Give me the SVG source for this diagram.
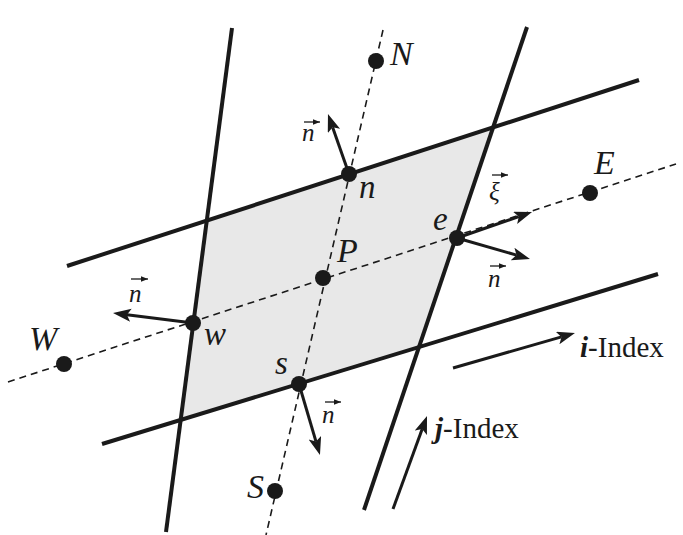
<svg xmlns="http://www.w3.org/2000/svg" width="683" height="535" viewBox="0 0 683 535">
<style>
.thick{stroke:#1a1a1a;stroke-width:4;fill:none}
.dash{stroke:#1a1a1a;stroke-width:1.6;fill:none;stroke-dasharray:7,5}
.arr{stroke:#1a1a1a;stroke-width:3;fill:none;marker-end:url(#ah)}
.vec{stroke:#1a1a1a;stroke-width:1.3;fill:none;marker-end:url(#sh)}
.dot{fill:#1a1a1a}
</style>
<defs>
<marker id="ah" markerUnits="userSpaceOnUse" markerWidth="20" markerHeight="14" refX="4" refY="6.5" orient="auto">
<path d="M0,0 L18,6.5 L0,13 L4,6.5 z" fill="#1a1a1a"/>
</marker>
<marker id="sh" markerUnits="userSpaceOnUse" markerWidth="8" markerHeight="6" refX="7" refY="2.75" orient="auto">
<path d="M0,0 L7,2.75 L0,5.5 z" fill="#1a1a1a"/>
</marker>
</defs>
<g id="cell">
<polygon points="206.5,221 493,127.5 419,347 180.5,420.5" fill="#e8e8e8"/>
</g>
<g id="connectors">
<line class="dash" x1="8" y1="382" x2="676" y2="164"/>
<line class="dash" x1="383" y1="30" x2="266" y2="535"/>
<line class="thick" x1="67" y1="266" x2="639" y2="80"/>
<line class="thick" x1="102" y1="444" x2="658" y2="274"/>
<line class="thick" x1="232" y1="28" x2="166" y2="532"/>
<line class="thick" x1="527" y1="27" x2="364" y2="510"/>
<line class="arr" x1="349" y1="174" x2="332.6" y2="127.2"/>
<line class="arr" x1="457" y1="238" x2="518.8" y2="216.6"/>
<line class="arr" x1="457" y1="238" x2="516.5" y2="255.1"/>
<line class="arr" x1="193" y1="323" x2="126.9" y2="314.7"/>
<line class="arr" x1="299" y1="384" x2="316" y2="441.6"/>
<line class="arr" x1="453" y1="368" x2="561.5" y2="336.9"/>
<line class="arr" x1="393" y1="509" x2="422.2" y2="429.1"/>
</g>
<g font-family="'Liberation Serif', serif" fill="#1a1a1a">
<g id="node-N"><circle class="dot" cx="376" cy="61" r="8"/><text font-style="italic" font-size="34" x="390" y="65">N</text></g>
<g id="node-S"><circle class="dot" cx="275" cy="491" r="8"/><text font-style="italic" font-size="34" x="247" y="498">S</text></g>
<g id="node-W"><circle class="dot" cx="64" cy="364" r="8"/><text font-style="italic" font-size="34" x="29" y="350">W</text></g>
<g id="node-E"><circle class="dot" cx="590" cy="193" r="8"/><text font-style="italic" font-size="34" x="594" y="174">E</text></g>
<g id="node-P"><circle class="dot" cx="323" cy="278" r="8"/><text font-style="italic" font-size="34" x="337" y="262">P</text></g>
<g id="node-n"><circle class="dot" cx="349" cy="174" r="8"/><text font-style="italic" font-size="33" x="359" y="198">n</text>
<text font-style="italic" font-size="25" x="302" y="141">n</text><line class="vec" x1="304" y1="122" x2="320" y2="122"/></g>
<g id="node-e"><circle class="dot" cx="457" cy="238" r="8"/><text font-style="italic" font-size="33" x="433" y="230">e</text>
<text font-style="italic" font-size="25" x="488" y="287">n</text><line class="vec" x1="490" y1="266" x2="506" y2="266"/>
<text font-style="italic" font-size="25" x="489" y="200">&#958;</text><line class="vec" x1="492" y1="175" x2="508" y2="175"/></g>
<g id="node-w"><circle class="dot" cx="193" cy="323" r="8"/><text font-style="italic" font-size="33" x="204" y="345">w</text>
<text font-style="italic" font-size="25" x="129" y="302">n</text><line class="vec" x1="131" y1="279" x2="148" y2="279"/></g>
<g id="node-s"><circle class="dot" cx="299" cy="384" r="8"/><text font-style="italic" font-size="33" x="275" y="374">s</text>
<text font-style="italic" font-size="25" x="322" y="423">n</text><line class="vec" x1="325" y1="402" x2="341" y2="402"/></g>
<g id="label-i"><text font-size="29" x="580" y="357"><tspan font-weight="bold" font-style="italic">i</tspan>-Index</text></g>
<g id="label-j"><text font-size="29" x="435" y="438"><tspan font-weight="bold" font-style="italic">j</tspan>-Index</text></g>
</g>
</svg>
